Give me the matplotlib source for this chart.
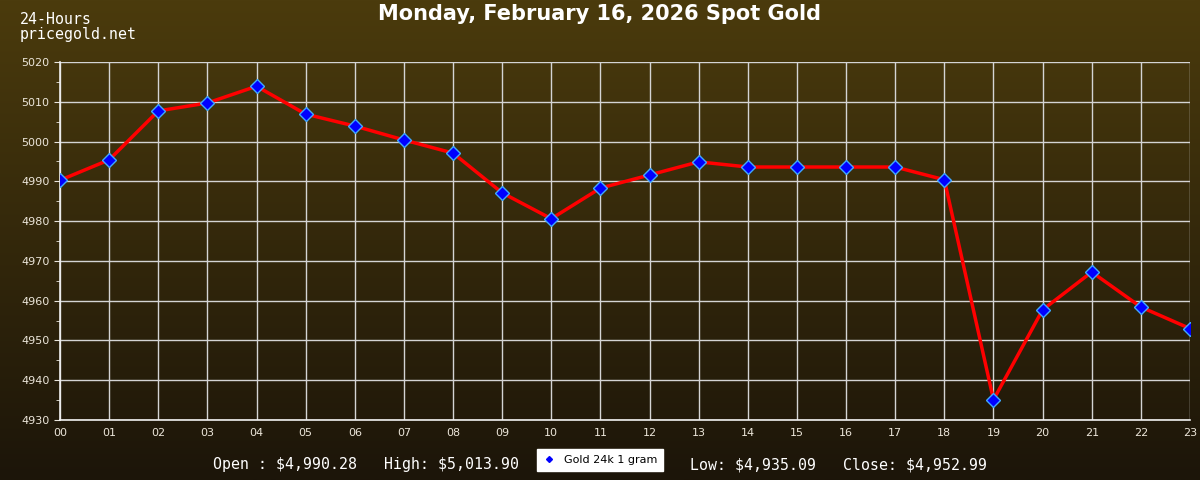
import numpy as np
import matplotlib
matplotlib.use("Agg")
import matplotlib.pyplot as plt
from matplotlib.colors import LinearSegmentedColormap
from matplotlib.lines import Line2D

hours = ["00", "01", "02", "03", "04", "05", "06", "07", "08", "09", "10", "11",
         "12", "13", "14", "15", "16", "17", "18", "19", "20", "21", "22", "23"]
prices = [4990.28, 4995.4, 5007.7, 5009.7, 5013.90, 5006.9, 5003.9, 5000.4,
          4997.1, 4987.1, 4980.6, 4988.3, 4991.6, 4994.9, 4993.6, 4993.6,
          4993.6, 4993.6, 4990.4, 4935.09, 4957.7, 4967.2, 4958.4, 4952.99]
y_ticks = [4930, 4940, 4950, 4960, 4970, 4980, 4990, 5000, 5010, 5020]
stats = [("Open : $4,990.28", 213), ("High: $5,013.90", 384),
         ("Low: $4,935.09", 690), ("Close: $4,952.99", 843)]

W, H = 1200, 480
fig = plt.figure(figsize=(W / 100, H / 100), dpi=100)

# background gradient over the whole figure
bg = fig.add_axes([0, 0, 1, 1], zorder=-10)
cmap = LinearSegmentedColormap.from_list("bg", ["#4b3b0d", "#1c1509"])
bg.imshow(np.linspace(0, 1, 256).reshape(-1, 1), aspect="auto", cmap=cmap,
          extent=[0, 1, 0, 1])
bg.axis("off")

ax = fig.add_axes([60 / W, 1 - 420 / H, 1130 / W, 358 / H])
ax.patch.set_alpha(0)
x = np.arange(len(hours))
ax.plot(x, prices, color="#ff0000", lw=2.5, zorder=3)
ax.plot(x, prices, ls="none", marker="D", ms=7, mfc="#0000ff",
        mec="#3fa9ff", mew=1.0, zorder=4)

ax.set_xlim(0, 23)
ax.set_ylim(4930, 5020)
ax.set_xticks(x)
ax.set_xticklabels(hours)
ax.set_yticks(y_ticks)
ax.set_yticks(np.arange(4935, 5020, 10), minor=True)
ax.grid(True, color="#d4d4d4", lw=1)
ax.tick_params(axis="both", colors="#e8e4dc", labelsize=8, length=4,
               labelcolor="#ece6da")
ax.tick_params(axis="x", length=0, pad=6)
ax.tick_params(axis="y", which="minor", length=3, color="#e8e4dc")
for s in ["top", "right"]:
    ax.spines[s].set_visible(False)
for s in ["left", "bottom"]:
    ax.spines[s].set_color("#f0f0f0")
    ax.spines[s].set_linewidth(1.2)

fig.text(600 / W, 1 - 14 / H, "Monday, February 16, 2026 Spot Gold",
         ha="center", va="center", fontsize=15, fontweight="bold",
         color="white", family="DejaVu Sans")
fig.text(20 / W, 1 - 19 / H, "24-Hours", ha="left", va="center",
         fontsize=10.7, color="white", family="DejaVu Sans Mono")
fig.text(20 / W, 1 - 34 / H, "pricegold.net", ha="left", va="center",
         fontsize=10.7, color="white", family="DejaVu Sans Mono")
for label, px in stats:
    fig.text(px / W, 1 - 465 / H, label, ha="left", va="center",
             fontsize=10.7, color="white", family="DejaVu Sans Mono")

handle = Line2D([], [], ls="none", marker="D", ms=3, mfc="#0000ff",
                mec="#0000ff")
leg = fig.legend([handle], ["Gold 24k 1 gram"], loc="center",
                 bbox_to_anchor=(600 / W, 1 - 460 / H), fontsize=8,
                 frameon=True, fancybox=False, framealpha=1,
                 handlelength=1.2, borderpad=0.5, handletextpad=0.8)
leg.get_frame().set_facecolor("white")
leg.get_frame().set_edgecolor("white")

fig.savefig("out.png", dpi=100)
